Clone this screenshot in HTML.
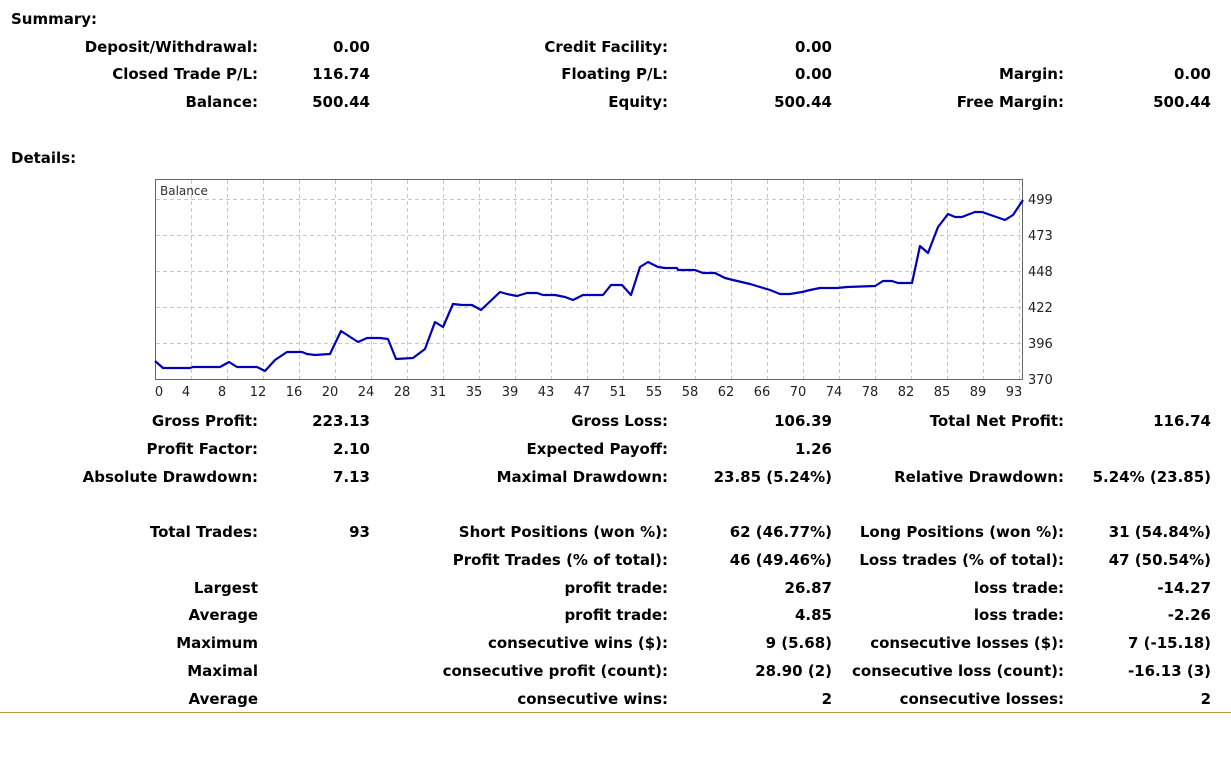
<!DOCTYPE html><html><head><style>
body{margin:0;width:1231px;height:781px;background:#fff;font-family:Tahoma,"DejaVu Sans","Liberation Sans",sans-serif;font-weight:bold;font-size:15px;color:#000;position:relative;overflow:hidden}
.t{position:absolute;white-space:nowrap;line-height:18px}
.r{text-align:right}
</style></head><body>
<div class="t" style="left:11px;top:10px">Summary:</div>
<div class="t" style="left:11px;top:149px">Details:</div>
<div id="c"></div>
<svg style="position:absolute;left:0;top:0" width="1231" height="781">
<g stroke="#c8c8c8" stroke-dasharray="4,3" stroke-width="1">
<line x1="156" x2="1022" y1="199.5" y2="199.5"/><line x1="156" x2="1022" y1="235.5" y2="235.5"/><line x1="156" x2="1022" y1="271.5" y2="271.5"/><line x1="156" x2="1022" y1="307.5" y2="307.5"/><line x1="156" x2="1022" y1="343.5" y2="343.5"/>
<g id="v"></g>
</g>
<rect x="155.5" y="179.5" width="867" height="200" fill="none" stroke="#666" stroke-width="1"/>
<polyline fill="none" stroke="#0000b4" stroke-width="2.2" stroke-linejoin="round" points="155,361 163,368 190,368 193,367 220,367 229,362 237,367 257,367 265,371 275,360 287,352 302,352 307,354 315,355 330,354 341,331 358,342 367,338 380,338 388,339 396,359 413,358 425,349 435,322 443,327 453,304 462,305 472,305 481,310 500,292 507,294 517,296 527,293 537,293 543,295 555,295 565,297 573,300 583,295 603,295 611,285 622,285 631,295 640,267 648,262 658,267 665,268 677,268 678,270 695,270 703,273 715,273 725,278 733,280 750,284 770,290 780,294 790,294 802,292 810,290 820,288 837,288 847,287 875,286 883,281 892,281 898,283 912,283 920,246 928,253 938,227 948,214 955,217 962,217 967,215 975,212 982,212 1005,220 1013,215 1023,200"/>
<text x="160" y="195" font-family="Tahoma,'DejaVu Sans',sans-serif" font-size="12" font-weight="normal" fill="#333">Balance</text>
<g font-family="Tahoma,'DejaVu Sans',sans-serif" font-size="13" font-weight="normal" fill="#222" id="lab">
<text x="1028" y="204">499</text><text x="1028" y="240">473</text><text x="1028" y="276">448</text><text x="1028" y="312">422</text><text x="1028" y="348">396</text><text x="1028" y="384">370</text>
</g>
<line x1="0" x2="1231" y1="712.5" y2="712.5" stroke="#b49a3c" stroke-width="1"/>
</svg>
<script>
var rows=[
[38,"Deposit/Withdrawal:","0.00","Credit Facility:","0.00","",""],
[65,"Closed Trade P/L:","116.74","Floating P/L:","0.00","Margin:","0.00"],
[93,"Balance:","500.44","Equity:","500.44","Free Margin:","500.44"],
[412,"Gross Profit:","223.13","Gross Loss:","106.39","Total Net Profit:","116.74"],
[440,"Profit Factor:","2.10","Expected Payoff:","1.26","",""],
[468,"Absolute Drawdown:","7.13","Maximal Drawdown:","23.85 (5.24%)","Relative Drawdown:","5.24% (23.85)"],
[523,"Total Trades:","93","Short Positions (won %):","62 (46.77%)","Long Positions (won %):","31 (54.84%)"],
[551,"","","Profit Trades (% of total):","46 (49.46%)","Loss trades (% of total):","47 (50.54%)"],
[579,"Largest","","profit trade:","26.87","loss trade:","-14.27"],
[606,"Average","","profit trade:","4.85","loss trade:","-2.26"],
[634,"Maximum","","consecutive wins ($):","9 (5.68)","consecutive losses ($):","7 (-15.18)"],
[662,"Maximal","","consecutive profit (count):","28.90 (2)","consecutive loss (count):","-16.13 (3)"],
[690,"Average","","consecutive wins:","2","consecutive losses:","2"]];
var ends=[258,370,668,832,1064,1211],h="";
rows.forEach(function(r){for(var i=0;i<6;i++){if(r[i+1])h+='<div class="t r" style="right:'+(1231-ends[i])+'px;top:'+r[0]+'px">'+r[i+1]+'</div>';}});
document.getElementById("c").innerHTML=h;
var ns="http://www.w3.org/2000/svg",v=document.getElementById("v"),lab=document.getElementById("lab");
var L=["0","4","8","12","16","20","24","28","31","35","39","43","47","51","55","58","62","66","70","74","78","82","85","89","93"];
for(var k=0;k<25;k++){var x=155+36*k;if(k>0&&x<1022){var l=document.createElementNS(ns,"line");l.setAttribute("x1",x+.5);l.setAttribute("x2",x+.5);l.setAttribute("y1",180);l.setAttribute("y2",379);v.appendChild(l);}
var t=document.createElementNS(ns,"text");t.setAttribute("x",k==0?159:x-5);t.setAttribute("y",396);t.setAttribute("text-anchor","middle");t.textContent=L[k];lab.appendChild(t);}
</script>
</body></html>
